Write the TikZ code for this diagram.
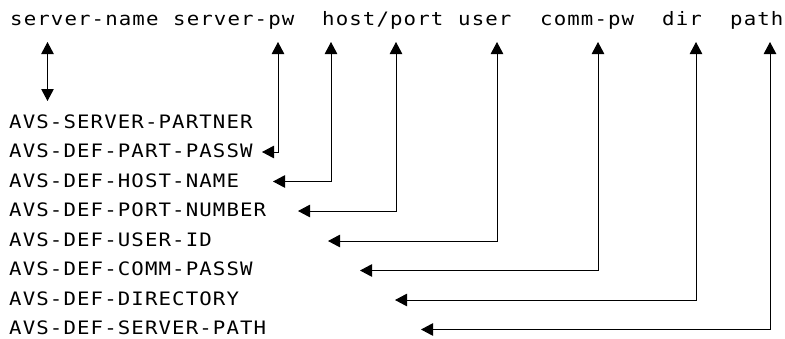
\documentclass[tikz,border=0pt]{standalone}
\usepackage{fontspec}
\newfontfamily\monofont{DejaVu Sans Mono}[FakeStretch=1.12,LetterSpace=6.0]
\usetikzlibrary{arrows.meta}
\tikzset{
  field/.style={inner sep=0pt, anchor=base west, font=\monofont\fontsize{18.5}{20}\selectfont},
  link/.style={line width=1pt, {Triangle[length=12pt,width=12.5pt]}-{Triangle[length=12pt,width=12.5pt]}},
}
\begin{document}
\begin{tikzpicture}[x=1pt,y=-1pt]
\useasboundingbox (0,0) rectangle (785,338);
% parameter names (top row)
\node[field] (sname) at (10,25)  {server-name};
\node[field] (spw)   at (173,25) {server-pw};
\node[field] (host)  at (322,25) {host/port};
\node[field] (user)  at (458,25) {user};
\node[field] (comm)  at (540,25) {comm-pw};
\node[field] (dir)   at (662,25) {dir};
\node[field] (path)  at (730,25) {path};
% variable names (left column)
\node[field] (v1) at (9,128.0) {AVS-SERVER-PARTNER};
\node[field] (v2) at (9,157.5) {AVS-DEF-PART-PASSW};
\node[field] (v3) at (9,187.0) {AVS-DEF-HOST-NAME};
\node[field] (v4) at (9,216.5) {AVS-DEF-PORT-NUMBER};
\node[field] (v5) at (9,246.0) {AVS-DEF-USER-ID};
\node[field] (v6) at (9,275.5) {AVS-DEF-COMM-PASSW};
\node[field] (v7) at (9,305.0) {AVS-DEF-DIRECTORY};
\node[field] (v8) at (9,334.5) {AVS-DEF-SERVER-PATH};
% arrow ends
\coordinate (a1) at (47.5,42);  \coordinate (b1) at (47.5,101);
\coordinate (a2) at (278,42);   \coordinate (b2) at (262,152);
\coordinate (a3) at (331,42);   \coordinate (b3) at (273,181.5);
\coordinate (a4) at (396,42);   \coordinate (b4) at (298,211);
\coordinate (a5) at (497,42);   \coordinate (b5) at (328,241);
\coordinate (a6) at (598,42);   \coordinate (b6) at (360,270.5);
\coordinate (a7) at (696,42);   \coordinate (b7) at (395,300);
\coordinate (a8) at (770,42);   \coordinate (b8) at (421,329.5);
% connectors
\draw[link] (a1) -- (b1);
\draw[link] (a2) |- (b2);
\draw[link] (a3) |- (b3);
\draw[link] (a4) |- (b4);
\draw[link] (a5) |- (b5);
\draw[link] (a6) |- (b6);
\draw[link] (a7) |- (b7);
\draw[link] (a8) |- (b8);
\end{tikzpicture}
\end{document}
